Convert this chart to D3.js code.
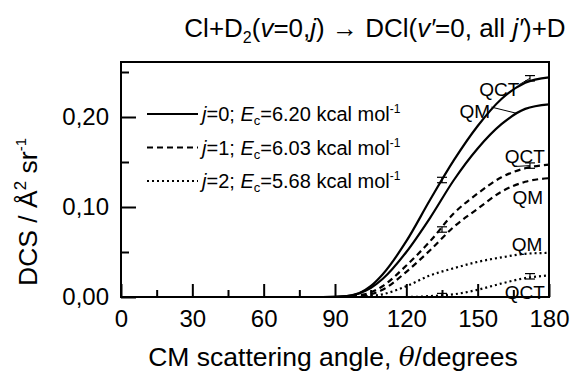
<!DOCTYPE html>
<html>
<head>
<meta charset="utf-8">
<script src="https://cdn.jsdelivr.net/npm/d3@7"></script>
<style>
  body { margin: 0; background: #fff; }
  svg text { font-family: "Liberation Sans", Arial, sans-serif; fill: #000; }
</style>
</head>
<body>
<div id="chart"></div>
<script>
// angle grid (degrees) shared by all curves
const angles = [0, 85, 95, 100, 105, 110, 120, 130, 140, 150, 160, 170, 180];

// DCS values, A^2 sr^-1
const j0QCT = [0, 0, 0.001, 0.004, 0.012, 0.025, 0.062, 0.108, 0.152, 0.190, 0.220, 0.238, 0.244];
const j0QM  = [0, 0, 0.001, 0.004, 0.010, 0.020, 0.050, 0.088, 0.130, 0.165, 0.192, 0.209, 0.214];
const j1QCT = [0, 0, 0, 0.002, 0.005, 0.012, 0.035, 0.062, 0.093, 0.115, 0.133, 0.143, 0.147];
const j1QM  = [0, 0, 0, 0.001, 0.003, 0.008, 0.028, 0.052, 0.078, 0.098, 0.117, 0.128, 0.132];
const j2QM  = [0, 0, 0, 0, 0.001, 0.003, 0.012, 0.024, 0.032, 0.039, 0.044, 0.048, 0.049];
const j2QCT = [0, 0, 0, 0, 0, 0, 0, 0.001, 0.003, 0.008, 0.015, 0.021, 0.024];

// QCT error bars (angle, value)
const errAngles = [135, 172];
const j0Err = [0.130, 0.243];
const j1Err = [0.075, 0.146];
const j2Err = [0.001, 0.023];
const errHalf = 0.003;

const xMajor = [0, 30, 60, 90, 120, 150, 180];
const xMinor = [15, 45, 75, 105, 135, 165];
const yMajor = [0, 0.10, 0.20];
const yMinor = [0.05, 0.15, 0.25];

const legendJ  = ["0", "1", "2"];
const legendEc = ["6.20", "6.03", "5.68"];

const W = 570, H = 380;
const margin = {top: 62, right: 21, bottom: 83, left: 121};
const width = W - margin.left - margin.right;
const height = H - margin.top - margin.bottom;

const svg = d3.select("#chart").append("svg")
    .attr("width", W).attr("height", H);
const g = svg.append("g")
    .attr("transform", "translate(" + margin.left + "," + margin.top + ")");

const x = d3.scaleLinear().domain([0, 180]).range([0, width]);
const y = d3.scaleLinear().domain([0, height / 900]).range([height, 0]);

/*  axes  */
const fmtY = v => d3.format(".2f")(v).replace(".", ",");

g.append("g").attr("transform", "translate(0," + height + ")")
    .call(d3.axisBottom(x).tickValues(xMajor).tickSize(-13).tickPadding(13))
    .call(a => a.select(".domain").remove())
    .call(a => a.selectAll("text").attr("font-size", 24).attr("font-family", "Liberation Sans, Arial"));
g.append("g").attr("transform", "translate(0," + height + ")")
    .call(d3.axisBottom(x).tickValues(xMinor).tickSize(-7).tickFormat(""))
    .call(a => a.select(".domain").remove());

g.append("g")
    .call(d3.axisLeft(y).tickValues(yMajor).tickSize(-15).tickPadding(12).tickFormat(fmtY))
    .call(a => a.select(".domain").remove())
    .call(a => a.selectAll("text").attr("font-size", 24).attr("font-family", "Liberation Sans, Arial"));
g.append("g")
    .call(d3.axisLeft(y).tickValues(yMinor).tickSize(-8).tickFormat(""))
    .call(a => a.select(".domain").remove());

g.selectAll(".tick line").attr("stroke", "#000").attr("stroke-width", 2);

g.append("rect")
    .attr("width", width).attr("height", height)
    .attr("fill", "none").attr("stroke", "#000").attr("stroke-width", 2);

/*  curves  */
const line = d3.line()
    .x((d, i) => x(angles[i]))
    .y(d => y(d))
    .curve(d3.curveMonotoneX);

const series = [
    {v: j0QCT, dash: null},
    {v: j0QM,  dash: null},
    {v: j1QCT, dash: "6,4"},
    {v: j1QM,  dash: "6,4"},
    {v: j2QM,  dash: "2,3"},
    {v: j2QCT, dash: "2,3"}
];

g.selectAll(".curve").data(series).enter().append("path")
    .attr("class", "curve")
    .attr("d", d => line(d.v))
    .attr("fill", "none")
    .attr("stroke", "#000")
    .attr("stroke-width", 2.2)
    .attr("stroke-dasharray", d => d.dash);

/*  error bars  */
[j0Err, j1Err, j2Err].forEach(function(vals) {
    vals.forEach(function(v, i) {
        const cx = x(errAngles[i]);
        const eb = g.append("g").attr("stroke", "#000").attr("stroke-width", 1.2);
        eb.append("line").attr("x1", cx).attr("x2", cx)
            .attr("y1", y(v + errHalf)).attr("y2", y(Math.max(0, v - errHalf)));
        [v + errHalf, Math.max(0, v - errHalf)].forEach(function(e) {
            eb.append("line").attr("x1", cx - 5).attr("x2", cx + 5)
                .attr("y1", y(e)).attr("y2", y(e));
        });
    });
});

/*  QM / QCT labels  */
const labels = [
    {t: "QCT", a: 167.5, v: 0.223, lead: [[167.5, 0.236], [172, 0.243]]},
    {t: "QM",  a: 155.2, v: 0.199, lead: [[155.8, 0.211], [166.5, 0.204]]},
    {t: "QCT", a: 178.3, v: 0.149, lead: [[165.5, 0.145], [172, 0.146]]},
    {t: "QM",  a: 177.5, v: 0.103, lead: null},
    {t: "QM",  a: 177.2, v: 0.051, lead: null},
    {t: "QCT", a: 178.3, v: -0.002, lead: null}
];
labels.forEach(function(l) {
    g.append("text")
        .attr("x", x(l.a)).attr("y", y(l.v))
        .attr("text-anchor", "end")
        .attr("font-size", 19)
        .text(l.t);
    if (l.lead) {
        g.append("line")
            .attr("x1", x(l.lead[0][0])).attr("y1", y(l.lead[0][1]))
            .attr("x2", x(l.lead[1][0])).attr("y2", y(l.lead[1][1]))
            .attr("stroke", "#000").attr("stroke-width", 1);
    }
});

/*  legend  */
const legend = g.append("g").attr("transform", "translate(26,52)");
legendJ.forEach(function(j, i) {
    const row = legend.append("g").attr("transform", "translate(0," + (i * 33.5) + ")");
    row.append("line")
        .attr("x1", 0).attr("x2", 51)
        .attr("stroke", "#000").attr("stroke-width", 2)
        .attr("stroke-dasharray", series[i * 2].dash);
    const t = row.append("text").attr("x", 55).attr("y", 7).attr("font-size", 20);
    t.append("tspan").attr("font-style", "italic").text("j");
    t.append("tspan").text("=" + j + "; ");
    t.append("tspan").attr("font-style", "italic").text("E");
    t.append("tspan").attr("font-size", 13).attr("dy", 4).text("c");
    t.append("tspan").attr("dy", -4).text("=" + legendEc[i] + " kcal mol");
    t.append("tspan").attr("font-size", 12).attr("dy", -8).text("-1");
});

/*  title  */
const title = svg.append("text")
    .attr("x", 375).attr("y", 37)
    .attr("text-anchor", "middle")
    .attr("font-size", 26);
title.append("tspan").text("Cl+D");
title.append("tspan").attr("font-size", 16).attr("dy", 6).text("2");
title.append("tspan").attr("dy", -6).text("(");
title.append("tspan").attr("font-style", "italic").text("v");
title.append("tspan").text("=0,");
title.append("tspan").attr("font-style", "italic").text("j");
title.append("tspan").text(") \u2192 DCl(");
title.append("tspan").attr("font-style", "italic").text("v\u2032");
title.append("tspan").text("=0, all ");
title.append("tspan").attr("font-style", "italic").text("j\u2032");
title.append("tspan").text(")+D");

/*  axis titles  */
const xt = svg.append("text")
    .attr("x", 333).attr("y", 366)
    .attr("text-anchor", "middle")
    .attr("font-size", 26.5);
xt.append("tspan").text("CM scattering angle, ");
xt.append("tspan").attr("font-style", "italic").attr("font-family", "DejaVu Serif, serif").text("\u03b8");
xt.append("tspan").text("/degrees");

const yt = svg.append("text")
    .attr("transform", "translate(37,212) rotate(-90)")
    .attr("text-anchor", "middle")
    .attr("font-size", 26.5);
yt.append("tspan").text("DCS / \u00c5");
yt.append("tspan").attr("font-size", 17).attr("dy", -11).text("2");
yt.append("tspan").attr("dy", 11).text(" sr");
yt.append("tspan").attr("font-size", 15).attr("dy", -11).text("-1");
</script>
</body>
</html>
